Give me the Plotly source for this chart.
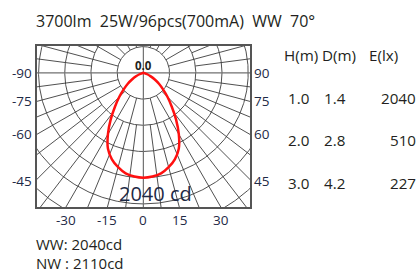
import numpy as np
import plotly.graph_objects as go

# ---------------- data ----------------
angles_deg = [-90, -85, -80, -75, -70, -65, -60, -55, -50, -45, -40, -35, -30, -25, -20, -15, -10, -5,
              0, 5, 10, 15, 20, 25, 30, 35, 40, 45, 50, 55, 60, 65, 70, 75, 80, 85, 90]
half_intensity = [0, 0, 10, 35, 80, 150, 250, 370, 500, 665, 860, 1110, 1380, 1630, 1790, 1900, 1985, 2025]
intensity_cd = half_intensity + [2040] + half_intensity[::-1]

ring_step_cd = 510
ring_count = 7
left_label_angles = [-90, -75, -60, -45]
bottom_label_angles = [-30, -15, 0, 15, 30]
right_label_angles = [90, 75, 60, 45]
center_label = "0.0"
peak_label = "2040 cd"
title_text = "3700lm\u00a0 25W/96pcs(700mA)\u00a0 WW\u00a0 70°"
table_headers = ["H(m)", "D(m)", "E(lx)"]
heights_m = ["1.0", "2.0", "3.0"]
diameters_m = ["1.4", "2.8", "4.2"]
illuminance_lx = ["2040", "510", "227"]
footer_lines = ["WW: 2040cd", "NW : 2110cd"]

# ---------------- layout geometry ----------------
FW, FH = 420, 272
ML, MR, MT, MB = 37, 170, 46, 65
PW, PH = FW - ML - MR, FH - MT - MB
XR = [-2070, 2075]
YR = [-2610, 522]

FONT = "Open Sans"
NAVY = "#1e2a46"
DARK = "#231f20"


def pol(theta_deg, r):
    t = np.radians(np.asarray(theta_deg, dtype=float))
    r = np.asarray(r, dtype=float)
    return r * np.sin(t), -r * np.cos(t)


def px2paper(px, py):
    return (px - ML) / PW, (FH - MB - py) / PH


def d2paper(x, y):
    return (x - XR[0]) / (XR[1] - XR[0]), (y - YR[0]) / (YR[1] - YR[0])


fig = go.Figure()

grid_col = "#3c3c3c"
# rings
phi = np.linspace(0, 360, 721)
for k in range(1, ring_count + 1):
    x, y = pol(phi, np.full_like(phi, k * ring_step_cd))
    fig.add_trace(go.Scatter(x=x, y=y, mode="lines", line=dict(color=grid_col, width=0.9),
                             hoverinfo="skip", showlegend=False))

# radial lines
far = 6000
segx, segy = [], []
for a in np.arange(0, 360, 7.5):
    if a % 90 == 0:
        continue
    r0 = ring_step_cd if a % 15 == 0 else 2 * ring_step_cd
    x, y = pol([a, a], [r0, far])
    segx += list(x) + [None]
    segy += list(y) + [None]
fig.add_trace(go.Scatter(x=segx, y=segy, mode="lines", line=dict(color=grid_col, width=0.9),
                         hoverinfo="skip", showlegend=False))

# main axes through center
axx, axy = [], []
for a in [0, 90, 180, 270]:
    x, y = pol([a, a], [0, far])
    axx += list(x) + [None]
    axy += list(y) + [None]
fig.add_trace(go.Scatter(x=axx, y=axy, mode="lines", line=dict(color="#707070", width=1.2),
                         hoverinfo="skip", showlegend=False))

# intensity curve
cx, cy = pol(angles_deg, intensity_cd)
fig.add_trace(go.Scatter(x=cx, y=cy, mode="lines", line=dict(color="#ff1010", width=2.5, shape="spline"),
                         hoverinfo="skip", showlegend=False))

ann = []

# angle labels
LBL = 13.5
for a in left_label_angles:
    t = np.radians(a)
    dx, dy = np.sin(t), -np.cos(t)
    s = XR[0] / dx
    px, py = d2paper(XR[0], s * dy)
    ann.append(dict(x=0, y=py, text=str(a), xanchor="right", yanchor="middle", xshift=-3,
                    yshift=-2 if a == -45 else 0,
                    font=dict(size=LBL, color=NAVY, family=FONT)))
for a in right_label_angles:
    t = np.radians(a)
    dx, dy = np.sin(t), -np.cos(t)
    s = XR[1] / dx
    px, py = d2paper(XR[1], s * dy)
    ann.append(dict(x=1, y=py, text=str(a), xanchor="left", yanchor="middle", xshift=2,
                    yshift=-2 if a == 45 else 0,
                    font=dict(size=LBL, color=NAVY, family=FONT)))
for a in bottom_label_angles:
    t = np.radians(a)
    dx, dy = np.sin(t), -np.cos(t)
    s = YR[0] / dy
    px, py = d2paper(s * dx, YR[0])
    ann.append(dict(x=px, y=0, text=str(a), xanchor="center", yanchor="top", yshift=-2,
                    font=dict(size=LBL, color=NAVY, family=FONT)))

# center and peak labels
cpx, cpy = d2paper(0, 0)
ann.append(dict(x=cpx, y=cpy, text="<b>" + center_label + "</b>", xanchor="center", yanchor="bottom",
                yshift=-2, font=dict(size=11.5, color=DARK, family=FONT)))
p = px2paper(155, 193)
ann.append(dict(x=p[0], y=p[1], text=peak_label, xanchor="center", yanchor="middle",
                font=dict(size=20, color=NAVY, family=FONT)))

# title
p = px2paper(34, 21)
ann.append(dict(x=p[0], y=p[1], text=title_text, xanchor="left", yanchor="middle",
                font=dict(size=16, color=DARK, family=FONT)))

# table
TBL = 15.2
hdr_x = [282, 320, 367]
for h, hx in zip(table_headers, hdr_x):
    p = px2paper(hx, 55)
    ann.append(dict(x=p[0], y=p[1], text=h, xanchor="left", yanchor="middle",
                    font=dict(size=TBL, color=DARK, family=FONT)))
row_y = [98, 140, 183]
for hv, dv, ev, ry in zip(heights_m, diameters_m, illuminance_lx, row_y):
    p = px2paper(286, ry)
    ann.append(dict(x=p[0], y=p[1], text=hv, xanchor="left", yanchor="middle",
                    font=dict(size=TBL, color=DARK, family=FONT)))
    p = px2paper(322, ry)
    ann.append(dict(x=p[0], y=p[1], text=dv, xanchor="left", yanchor="middle",
                    font=dict(size=TBL, color=DARK, family=FONT)))
    p = px2paper(418, ry)
    ann.append(dict(x=p[0], y=p[1], text=ev, xanchor="right", yanchor="middle",
                    font=dict(size=TBL, color=DARK, family=FONT)))

# footer
for line, fy in zip(footer_lines, [243.5, 262.5]):
    p = px2paper(35, fy)
    ann.append(dict(x=p[0], y=p[1], text=line, xanchor="left", yanchor="middle", borderpad=0,
                    font=dict(size=15, color=DARK, family=FONT)))

for a in ann:
    a.setdefault("xref", "paper")
    a.setdefault("yref", "paper")
    a["showarrow"] = False

fig.update_layout(
    width=FW, height=FH,
    margin=dict(l=ML, r=MR, t=MT, b=MB, pad=0),
    paper_bgcolor="white", plot_bgcolor="white",
    annotations=ann,
    xaxis=dict(range=XR, showgrid=False, zeroline=False, showticklabels=False, ticks="",
               showline=True, mirror=True, linecolor="#555555", linewidth=1.5, fixedrange=True),
    yaxis=dict(range=YR, showgrid=False, zeroline=False, showticklabels=False, ticks="",
               showline=True, mirror=True, linecolor="#555555", linewidth=1.5, fixedrange=True),
)

fig.write_html("out.html", config={"displayModeBar": False},
               post_script="document.body.style.margin='0px';document.body.style.padding='0px';")
